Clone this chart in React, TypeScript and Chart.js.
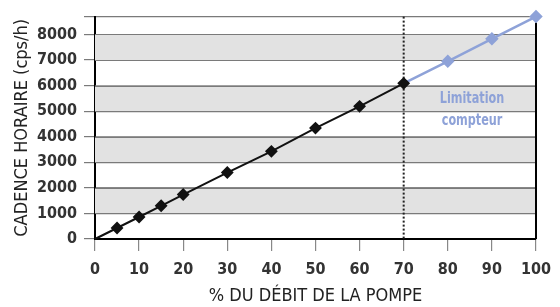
import React, { useEffect, useRef } from "react";
import { Chart, registerables } from "chart.js";

Chart.register(...registerables);

const blackX = [0, 5, 10, 15, 20, 30, 40, 50, 60, 70];
const blackY = [0, 430, 860, 1300, 1740, 2600, 3430, 4340, 5190, 6090];
const blueX = [70, 80, 90, 100];
const blueY = [6090, 6950, 7830, 8700];
const xTicks = [0, 10, 20, 30, 40, 50, 60, 70, 80, 90, 100];
const yTicks = [0, 1000, 2000, 3000, 4000, 5000, 6000, 7000, 8000];
const grayBands: [number, number][] = [[1000, 2000], [3000, 4000], [5000, 6000], [7000, 8000]];
const limitX = 70;
const annotationLines = ["Limitation", "compteur"];
const annotationX = 85.5;
const annotationY = [5470, 4610];
const xTitle = "% DU DÉBIT DE LA POMPE";
const yTitle = "CADENCE HORAIRE (cps/h)";

const FONT = "'Liberation Sans Narrow', 'DejaVu Sans Condensed', 'Roboto', sans-serif";
const BLUE = "#8ea2d8";

const decor = {
  id: "decor",
  beforeDatasetsDraw(chart: any) {
    const { ctx, chartArea, scales } = chart;
    const x = scales.x, y = scales.y;
    ctx.save();
    ctx.fillStyle = "#e2e2e2";
    for (const [a, b] of grayBands) {
      const y1 = y.getPixelForValue(b), y2 = y.getPixelForValue(a);
      ctx.fillRect(chartArea.left, y1, chartArea.right - chartArea.left, y2 - y1);
    }
    ctx.strokeStyle = "#7a7a7a";
    ctx.lineWidth = 1.2;
    for (const t of yTicks) {
      if (t === 0) continue;
      const py = Math.round(y.getPixelForValue(t)) + 0.5;
      ctx.beginPath();
      ctx.moveTo(chartArea.left, py);
      ctx.lineTo(chartArea.right, py);
      ctx.stroke();
    }
    const lx = x.getPixelForValue(limitX);
    ctx.strokeStyle = "#222";
    ctx.lineWidth = 2;
    ctx.setLineDash([2, 2]);
    ctx.beginPath();
    ctx.moveTo(lx, chartArea.top);
    ctx.lineTo(lx, chartArea.bottom);
    ctx.stroke();
    ctx.setLineDash([]);
    ctx.strokeStyle = "#000";
    ctx.lineWidth = 2;
    ctx.beginPath();
    ctx.moveTo(chartArea.right, chartArea.top + 6);
    ctx.lineTo(chartArea.right, chartArea.bottom);
    ctx.stroke();
    ctx.fillStyle = BLUE;
    ctx.font = `600 16px ${FONT}`;
    ctx.textAlign = "center";
    ctx.textBaseline = "middle";
    annotationLines.forEach((s, i) => {
      ctx.save();
      ctx.translate(x.getPixelForValue(annotationX), y.getPixelForValue(annotationY[i]));
      ctx.scale(0.78, 1);
      ctx.fillText(s, 0, 0);
      ctx.restore();
    });
    ctx.restore();
  },
};

export default function App() {
  const ref = useRef<HTMLCanvasElement>(null);
  useEffect(() => {
    document.body.style.margin = "0";
    const chart = new Chart(ref.current!, {
      type: "scatter",
      data: {
        datasets: [
          {
            data: blackX.map((v, i) => ({ x: v, y: blackY[i] })),
            showLine: true,
            borderColor: "#111",
            backgroundColor: "#111",
            borderWidth: 2,
            pointStyle: "rectRot",
            pointRadius: blackX.map((_, i) => (i === 0 ? 0 : 5)),
          },
          {
            data: blueX.map((v, i) => ({ x: v, y: blueY[i] })),
            showLine: true,
            borderColor: BLUE,
            backgroundColor: BLUE,
            borderWidth: 2.5,
            pointStyle: "rectRot",
            pointRadius: blueX.map((_, i) => (i === 0 ? 0 : 5)),
          },
        ],
      },
      options: {
        animation: false,
        responsive: false,
        events: [],
        clip: false as any,
        layout: { padding: { left: 0, top: 15, right: 18, bottom: 0 } },
        plugins: { legend: { display: false }, tooltip: { enabled: false } },
        scales: {
          x: {
            type: "linear",
            min: 0,
            max: 100,
            afterBuildTicks: (s: any) => {
              s.ticks = xTicks.map((v) => ({ value: v }));
            },
            afterFit: (s: any) => {
              s.height = 68;
            },
            border: { color: "#000", width: 2 },
            grid: { drawOnChartArea: false, drawTicks: true, tickLength: 12, color: "#888", lineWidth: 1.2 },
            ticks: { color: "#333", padding: 9, font: { family: FONT, size: 16, weight: "bold" }, maxRotation: 0 },
            title: { display: true, text: xTitle, color: "#222", font: { family: FONT, size: 18 }, padding: { top: 2, bottom: 0 } },
          },
          y: {
            type: "linear",
            min: 0,
            max: 8700,
            afterBuildTicks: (s: any) => {
              s.ticks = [...yTicks, 8700].map((v) => ({ value: v }));
            },
            afterFit: (s: any) => {
              s.width = 95;
            },
            border: { color: "#000", width: 2 },
            grid: { drawOnChartArea: true, drawTicks: true, tickLength: 11, color: "#7a7a7a", lineWidth: 1.2 },
            ticks: {
              color: "#333",
              padding: 7,
              font: { family: FONT, size: 16, weight: "bold" },
              callback: (v: any) => (yTicks.includes(v) ? String(v) : ""),
            },
            title: { display: true, text: yTitle, color: "#222", font: { family: FONT, size: 18 }, padding: { top: 12, bottom: 0 } },
          },
        },
      } as any,
      plugins: [decor],
    });
    return () => chart.destroy();
  }, []);
  return (
    <div style={{ position: "fixed", left: 0, top: 0, width: 560, height: 307, background: "#fff" }}>
      <canvas ref={ref} width={560} height={307} style={{ width: 560, height: 307 }} />
    </div>
  );
}
